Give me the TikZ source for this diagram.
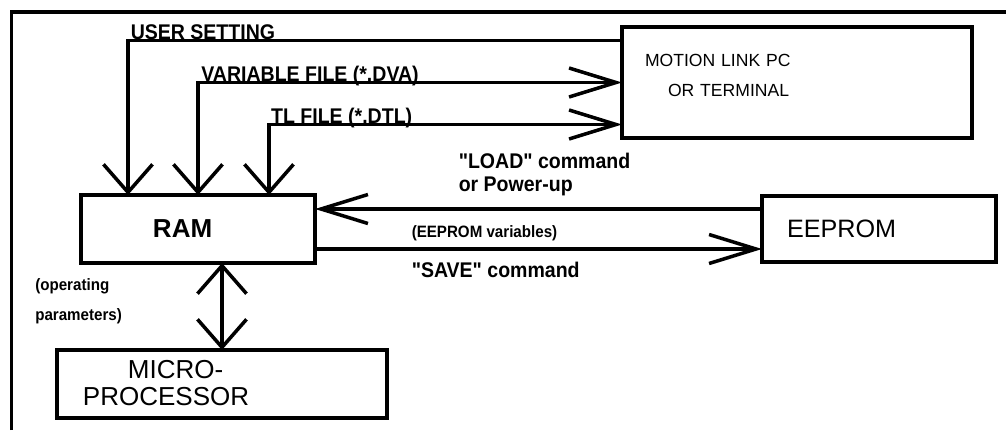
\documentclass[tikz,border=0pt]{standalone}
\usepackage{fontspec}
\setmainfont{Liberation Sans}
\newfontfamily\narrowsans[FakeStretch=0.92]{Liberation Sans}
\usetikzlibrary{arrows.meta, positioning, calc}
\tikzset{
  blockbox/.style={
    draw, line width=2.5pt,
    outer sep=0pt, inner xsep=0pt, inner ysep=0pt,
    align=left,
  },
  sigtxt/.style={font=\narrowsans\bfseries\fontsize{15.1}{16.1}\selectfont,
    inner sep=0pt, align=left},
  sigtxtsm/.style={font=\narrowsans\bfseries\fontsize{11.7}{21}\selectfont,
    inner sep=0pt, align=left},
  vbarb/.tip={Straight Barb[length=7mm, width=12.25mm]},
  hbarb/.tip={Straight Barb[length=11.75mm, width=7.25mm]},
  sig/.style={line width=2.5pt},
  sigdn/.style={sig, -vbarb},
  sigvh/.style={sig, vbarb-hbarb},
  sigh/.style={sig, -hbarb},
  sigvv/.style={sig, vbarb-vbarb},
  outerframe/.style={line width=2.8pt},
}
\begin{document}
\begin{tikzpicture}[x=0.25mm, y=-0.25mm]
  \useasboundingbox (0,0) rectangle (1006,430);

  % page frame
  \draw[outerframe] (11.5,430) -- (11.5,12) -- (1006,12);

  % Blocks
  \node[blockbox, text width=58.5mm, minimum height=17mm,
        font=\bfseries\fontsize{18.5}{20}\selectfont] (ram) at (198,229)
    {\hspace*{18mm}RAM};

  \node[blockbox, text width=58.5mm, minimum height=16.5mm,
        font=\fontsize{17.9}{20}\selectfont,
        right=111.75mm of ram] (eeprom)
    {\hspace*{6.25mm}EEPROM};

  \node[blockbox, text width=82.5mm, minimum height=17mm,
        font=\fontsize{18.5}{19.2}\selectfont,
        text height=5mm, text depth=8mm,
        below=21.75mm of ram, xshift=6mm] (micro)
    {\hspace*{17.75mm}MICRO-\\\hspace*{6.5mm}PROCESSOR};

  \node[blockbox, text width=87.5mm, minimum height=27.75mm,
        font=\fontsize{12.5}{21.3}\selectfont,
        text height=3mm, text depth=10.75mm,
        above right=14.25mm and 76.75mm of ram] (motion)
    {\hspace*{5.75mm}MOTION LINK PC\\\hspace*{11.5mm}OR TERMINAL};

  % Motion link -> RAM
  \draw[sigdn] ($(motion.west)+(0,10.5mm)$) -| ($(ram.north)+(-17.5mm,0)$)
    node[sigtxt, pos=0.5, anchor=base west, xshift=0.25mm, yshift=0.3mm] (usrlbl)
    {USER SETTING};

  \draw[sigvh] (ram.north) |- (motion.west)
    node[sigtxt, pos=0.5, anchor=base west, xshift=0.4mm, yshift=0.3mm] (dvalbl)
    {VARIABLE FILE (*.DVA)};

  \draw[sigvh] ($(ram.north)+(17.75mm,0)$) |- ($(motion.west)+(0,-10.5mm)$)
    node[sigtxt, pos=0.5, anchor=base west, xshift=0.1mm, yshift=0.3mm] (dtllbl)
    {TL FILE (*.DTL)};

  % EEPROM <-> RAM
  \draw[sigh] ($(eeprom.west)+(0,5mm)$) -- ($(ram.east)+(0,5mm)$)
    node[sigtxt, pos=0.6823, anchor=south west, yshift=2.9mm] (loadlbl)
    {"LOAD" command\\or Power-up};

  \draw[sigh] ($(ram.east)+(0,-5mm)$) -- ($(eeprom.west)+(0,-5mm)$)
    node[sigtxtsm, pos=0.2125, anchor=base west, yshift=3mm] (varlbl)
    {(EEPROM variables)}
    node[sigtxt, pos=0.2125, anchor=base west, yshift=-7mm] (savelbl)
    {"SAVE" command};

  % RAM <-> micro
  \draw[sigvv] (ram.south -| micro.north) -- (micro.north);
  \node[sigtxtsm, anchor=south west] (oplbl)
    at ($(ram.south west)+(-11.5mm,-15.25mm)$) {(operating\\parameters)};

\end{tikzpicture}
\end{document}
